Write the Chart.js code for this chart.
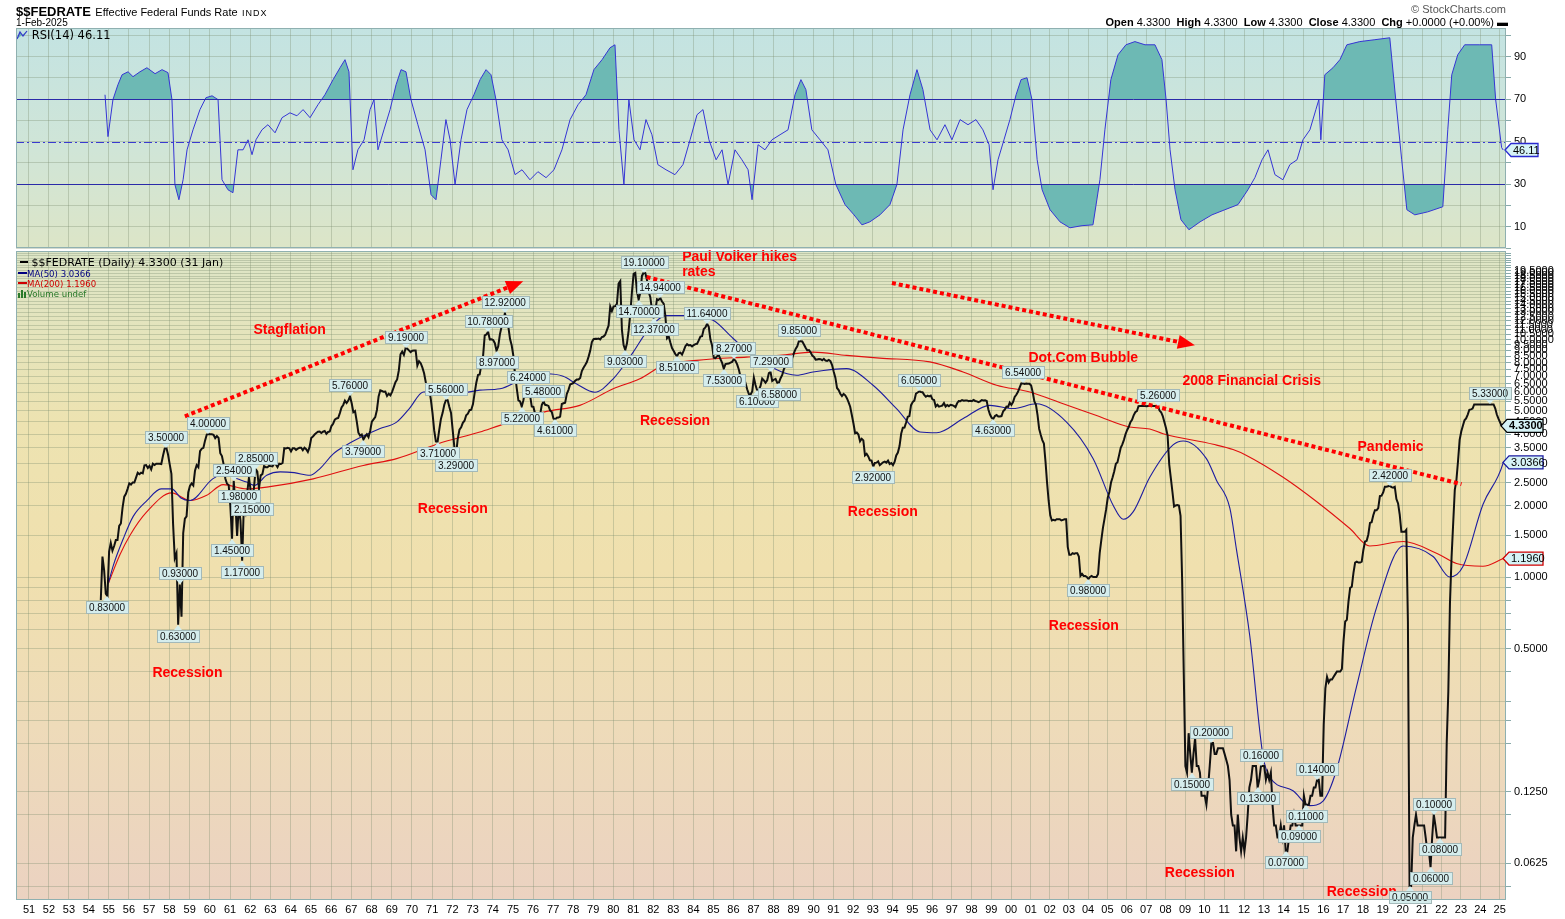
<!DOCTYPE html>
<html><head><meta charset="utf-8">
<script src="https://cdn.jsdelivr.net/npm/chart.js@4.4.1/dist/chart.umd.min.js"></script>
<style>
html,body{margin:0;padding:0;background:#fff;}
#wrap{position:relative;width:1565px;height:919px;overflow:hidden;font-family:"Liberation Sans",Arial,sans-serif;color:#000;}
canvas{position:absolute;left:0;top:0;}
.t{position:absolute;white-space:nowrap;line-height:1;}
.dv{font-family:"DejaVu Sans",Verdana,sans-serif;}
</style></head><body>
<div id="wrap">
<canvas id="rsi" width="1565" height="919"></canvas>
<canvas id="main" width="1565" height="919"></canvas>
<div class="t" style="left:16px;top:3px;"><b style="font-size:13px;">$$FEDRATE</b> <span style="font-size:11px;">Effective Federal Funds Rate</span> <span style="font-size:9px;letter-spacing:1px;">INDX</span></div>
<div class="t" style="left:16px;top:18px;font-size:10px;">1-Feb-2025</div>
<div class="t" style="right:59px;top:4px;font-size:11px;color:#555;">&#169; StockCharts.com</div>
<div class="t" style="right:57px;top:17px;font-size:11px;"><b>Open</b> 4.3300&nbsp; <b>High</b> 4.3300&nbsp; <b>Low</b> 4.3300&nbsp; <b>Close</b> 4.3300&nbsp; <b>Chg</b> +0.0000 (+0.00%) <b>&#9644;</b></div>
<div class="t dv" style="left:17px;top:30px;font-size:11.5px;"><svg width="11" height="10" style="vertical-align:-1px"><polyline points="0,9 3,2 6,6 10,1" fill="#6cb9b5" stroke="#3333cc" stroke-width="1.2"/></svg> RSI(14) 46.11</div>
<div class="t dv" style="left:20px;top:257px;font-size:11px;"><span style="display:inline-block;width:8px;height:2px;background:#000;vertical-align:3px;"></span> $$FEDRATE (Daily) 4.3300 (31 Jan)</div>
<div class="t dv" style="left:18px;top:269.5px;font-size:8.6px;color:#000080;"><span style="display:inline-block;width:9px;height:2px;background:#000080;vertical-align:3px;"></span>MA(50) 3.0366</div>
<div class="t dv" style="left:18px;top:279.5px;font-size:8.6px;color:#d00000;"><span style="display:inline-block;width:9px;height:2px;background:#d00000;vertical-align:3px;"></span>MA(200) 1.1960</div>
<div class="t dv" style="left:18px;top:289.5px;font-size:8.6px;color:#2a7a2a;"><svg width="9" height="8" style="vertical-align:-1px"><rect x="0" y="3" width="2" height="5" fill="#2a7a2a"/><rect x="3" y="0" width="2" height="8" fill="#2a7a2a"/><rect x="6" y="2" width="2" height="6" fill="#2a7a2a"/></svg>Volume undef</div>
</div>
<script>
// ---------------- DATA ----------------
// Effective Federal Funds Rate, monthly, first value = Jul 1954
const fedStartYear = 1954, fedStartMonth = 7;
const fedRate = [
/*1954*/ 0.80,1.22,1.07,0.85,0.83,1.28,
/*1955*/ 1.39,1.29,1.35,1.43,1.43,1.64,1.68,1.96,2.18,2.24,2.35,2.48,
/*1956*/ 2.45,2.50,2.50,2.62,2.75,2.71,2.75,2.73,2.95,2.96,2.88,2.94,
/*1957*/ 2.84,3.00,2.96,3.00,3.00,3.00,2.99,3.24,3.47,3.50,3.28,2.98,
/*1958*/ 2.72,1.67,1.20,1.26,0.63,0.93,0.68,1.53,1.76,1.80,2.27,2.42,
/*1959*/ 2.48,2.43,2.80,2.96,2.90,3.39,3.47,3.50,3.76,3.98,4.00,3.99,
/*1960*/ 3.99,3.97,3.84,3.92,3.85,3.32,3.23,2.98,2.60,2.47,2.44,1.98,
/*1961*/ 1.45,2.54,2.02,1.49,1.98,1.73,1.17,2.00,1.88,2.26,2.61,2.33,
/*1962*/ 2.15,2.37,2.85,2.78,2.36,2.68,2.71,2.93,2.90,2.90,2.94,2.93,
/*1963*/ 2.92,3.00,2.98,2.90,3.00,2.99,3.02,3.49,3.48,3.50,3.48,3.38,
/*1964*/ 3.48,3.48,3.43,3.47,3.50,3.50,3.42,3.50,3.45,3.36,3.52,3.85,
/*1965*/ 3.90,3.98,4.04,4.09,4.10,4.04,4.09,4.12,4.01,4.08,4.10,4.32,
/*1966*/ 4.42,4.60,4.65,4.67,4.90,5.17,5.30,5.53,5.40,5.53,5.76,5.40,
/*1967*/ 4.94,5.00,4.53,4.05,3.94,3.98,3.79,3.90,3.99,3.88,4.13,4.51,
/*1968*/ 4.61,4.71,5.05,5.76,6.11,6.07,6.02,6.03,5.78,5.91,5.82,6.02,
/*1969*/ 6.30,6.61,6.79,7.41,8.67,8.90,8.61,9.19,9.15,9.00,8.85,8.97,
/*1970*/ 8.98,8.98,7.76,8.10,7.95,7.61,7.21,6.61,6.29,6.20,5.60,4.90,
/*1971*/ 4.14,3.72,3.71,4.16,4.63,4.91,5.31,5.56,5.55,5.20,4.91,4.14,
/*1972*/ 3.50,3.29,3.83,4.17,4.27,4.46,4.55,4.80,4.87,5.04,5.06,5.33,
/*1973*/ 5.94,6.58,7.09,7.12,7.84,8.49,10.40,10.50,10.78,10.01,10.03,9.95,
/*1974*/ 9.65,8.97,9.35,10.51,11.31,11.93,12.92,12.01,11.34,10.06,9.45,8.53,
/*1975*/ 7.13,6.24,5.54,5.49,5.22,5.55,6.10,6.14,6.24,5.82,5.22,5.20,
/*1976*/ 4.87,4.77,4.84,4.82,5.29,5.48,5.31,5.29,5.25,5.03,4.95,4.65,
/*1977*/ 4.61,4.68,4.69,4.73,5.35,5.39,5.42,5.90,6.14,6.47,6.51,6.56,
/*1978*/ 6.70,6.78,6.79,6.89,7.36,7.60,7.81,8.04,8.45,8.96,9.76,10.03,
/*1979*/ 10.07,10.06,10.09,10.01,10.24,10.29,10.47,10.94,11.43,13.77,13.18,13.78,
/*1980*/ 13.82,14.13,17.19,17.61,10.98,9.47,9.03,9.61,10.87,12.81,15.85,18.90,
/*1981*/ 19.08,15.93,14.70,15.72,18.52,19.10,19.04,17.82,15.87,15.08,13.31,12.37,
/*1982*/ 13.22,14.78,14.68,14.94,14.45,14.15,12.59,10.12,10.31,9.71,9.20,8.95,
/*1983*/ 8.68,8.51,8.77,8.80,8.63,8.98,9.37,9.56,9.45,9.48,9.34,9.47,
/*1984*/ 9.56,9.59,9.91,10.29,10.32,11.06,11.23,11.64,11.30,9.99,9.43,8.38,
/*1985*/ 8.35,8.50,8.58,8.27,7.97,7.53,7.88,7.90,7.92,7.99,8.05,8.27,
/*1986*/ 8.14,7.86,7.48,6.99,6.85,6.92,6.56,6.17,5.89,5.85,6.04,6.91,
/*1987*/ 6.43,6.10,6.13,6.37,6.85,6.73,6.58,6.73,7.22,7.29,6.69,6.77,
/*1988*/ 6.83,6.58,6.58,6.87,7.09,7.51,7.75,8.01,8.19,8.30,8.35,8.76,
/*1989*/ 9.12,9.36,9.85,9.84,9.81,9.53,9.24,8.99,9.02,8.84,8.55,8.45,
/*1990*/ 8.23,8.24,8.28,8.26,8.18,8.29,8.15,8.13,8.20,8.11,7.81,7.31,
/*1991*/ 6.91,6.25,6.12,5.91,5.78,5.90,5.82,5.66,5.45,5.21,4.81,4.43,
/*1992*/ 4.03,4.06,3.98,3.73,3.82,3.76,3.25,3.30,3.22,3.10,3.09,2.92,
/*1993*/ 3.02,3.03,3.07,2.96,3.00,3.04,3.06,3.03,3.09,2.99,3.02,2.96,
/*1994*/ 3.05,3.25,3.34,3.56,4.01,4.25,4.26,4.47,4.73,4.76,5.29,5.45,
/*1995*/ 5.53,5.92,5.98,6.05,6.01,6.00,5.85,5.74,5.80,5.76,5.80,5.60,
/*1996*/ 5.56,5.22,5.31,5.22,5.24,5.27,5.40,5.22,5.30,5.24,5.31,5.29,
/*1997*/ 5.25,5.19,5.39,5.51,5.50,5.56,5.52,5.54,5.54,5.50,5.52,5.50,
/*1998*/ 5.56,5.51,5.49,5.45,5.49,5.56,5.54,5.55,5.51,5.07,4.83,4.68,
/*1999*/ 4.63,4.76,4.81,4.74,4.74,4.76,4.99,5.07,5.22,5.20,5.42,5.30,
/*2000*/ 5.45,5.73,5.85,6.02,6.27,6.53,6.54,6.50,6.52,6.51,6.51,6.40,
/*2001*/ 5.98,5.49,5.31,4.80,4.21,3.97,3.77,3.65,3.07,2.49,2.09,1.82,
/*2002*/ 1.73,1.74,1.73,1.75,1.75,1.75,1.73,1.74,1.75,1.75,1.34,1.24,
/*2003*/ 1.24,1.26,1.25,1.26,1.26,1.22,1.01,1.03,1.01,1.01,1.00,0.98,
/*2004*/ 1.00,1.01,1.00,1.00,1.00,1.03,1.26,1.43,1.61,1.76,1.93,2.16,
/*2005*/ 2.28,2.50,2.63,2.79,3.00,3.04,3.26,3.50,3.62,3.78,4.00,4.16,
/*2006*/ 4.29,4.49,4.59,4.79,4.94,4.99,5.24,5.25,5.25,5.25,5.25,5.24,
/*2007*/ 5.25,5.26,5.26,5.25,5.25,5.25,5.26,5.02,4.94,4.76,4.49,4.24,
/*2008*/ 3.94,2.98,2.61,2.28,1.98,2.00,2.01,2.00,1.81,0.97,0.39,0.16,
/*2009*/ 0.15,0.22,0.18,0.15,0.18,0.21,0.16,0.16,0.15,0.12,0.12,0.12,
/*2010*/ 0.11,0.13,0.16,0.20,0.20,0.18,0.18,0.19,0.19,0.19,0.19,0.18,
/*2011*/ 0.17,0.16,0.14,0.10,0.09,0.09,0.07,0.10,0.08,0.07,0.08,0.07,
/*2012*/ 0.08,0.10,0.13,0.14,0.16,0.16,0.16,0.13,0.14,0.16,0.16,0.16,
/*2013*/ 0.14,0.15,0.14,0.15,0.11,0.09,0.09,0.08,0.08,0.09,0.08,0.09,
/*2014*/ 0.07,0.07,0.08,0.09,0.09,0.10,0.09,0.09,0.09,0.09,0.09,0.12,
/*2015*/ 0.11,0.11,0.11,0.12,0.12,0.13,0.13,0.14,0.14,0.12,0.12,0.24,
/*2016*/ 0.34,0.38,0.36,0.37,0.37,0.38,0.39,0.40,0.40,0.40,0.41,0.54,
/*2017*/ 0.65,0.66,0.79,0.90,0.91,1.04,1.15,1.16,1.15,1.15,1.16,1.30,
/*2018*/ 1.41,1.42,1.51,1.69,1.70,1.82,1.91,1.91,1.95,2.19,2.20,2.27,
/*2019*/ 2.40,2.40,2.41,2.42,2.39,2.38,2.40,2.13,2.04,1.83,1.55,1.55,
/*2020*/ 1.55,1.58,0.65,0.05,0.05,0.08,0.09,0.10,0.09,0.09,0.09,0.09,
/*2021*/ 0.09,0.08,0.07,0.07,0.06,0.08,0.10,0.09,0.08,0.08,0.08,0.08,
/*2022*/ 0.08,0.08,0.20,0.33,0.77,1.21,1.68,2.33,2.56,3.08,3.78,4.10,
/*2023*/ 4.33,4.57,4.65,4.83,5.06,5.08,5.12,5.33,5.33,5.33,5.33,5.33,
/*2024*/ 5.33,5.33,5.33,5.33,5.33,5.33,5.33,5.33,5.13,4.83,4.64,4.48,
/*2025*/ 4.33
];

// The chart's time axis is not exactly linear in calendar time: shift (in years) at some calendar dates
const warpCalYears = [1950, 1955, 1975, 1990, 2001, 2004, 2010, 2020, 2025.1];
const warpShift    = [-0.25, -0.23, 0.12, 0.25, 0.18, 0.06, -0.08, -0.10, -0.22];
const yearLabelShift = -0.1;

// Moving averages (chart-axis year, value)
const ma50Dates  = [1954.65,1954.90,1955.4,1955.9,1956.6,1957.3,1957.84,1958.3,1958.76,1959.9,1960.60,1961.1,1961.61,1962.0,1962.62,1963.3,1964.0,1964.8,1965.3,1965.97,1966.6,1967.48,1968.3,1969.16,1969.8,1970.5,1971.68,1972.5,1973.35,1974.36,1975.53,1976.71,1977.54,1978.22,1979.14,1980.06,1981.07,1981.74,1982.75,1983.75,1985.09,1986.10,1987.11,1989.29,1990.12,1991.81,1993.14,1994.32,1995.50,1996.34,1997.68,1999.02,2000.19,2001.37,2002.88,2004.22,2005.23,2005.73,2006.23,2007.07,2008.24,2008.75,2009.92,2010.43,2011.10,2011.43,2012.10,2012.77,2013.11,2014.28,2015.12,2015.79,2016.47,2017.47,2018.48,2019.82,2021.33,2022.17,2022.84,2023.84,2024.85,2024.86];
const ma50Values = [0.94,1.12,1.45,1.80,2.10,2.35,2.35,2.15,2.10,2.59,2.72,2.60,2.51,2.43,2.68,2.77,2.75,2.68,2.86,3.30,3.58,3.92,4.21,4.49,5.12,6.01,6.05,5.97,6.12,6.20,6.83,7.17,7.00,6.50,6.00,6.83,8.85,10.75,12.60,12.60,12.05,10.10,8.57,7.07,7.30,7.54,6.42,5.12,4.08,4.05,4.65,5.28,5.12,5.36,4.49,3.15,2.00,1.75,1.88,2.63,3.60,3.74,3.15,2.55,1.95,1.31,0.567,0.176,0.144,0.126,0.109,0.114,0.154,0.344,0.741,1.35,1.22,1.00,1.11,2.02,3.01,3.0366];
const ma200Dates  = [1954.65,1955.23,1955.74,1956.58,1957.84,1958.76,1959.60,1960.43,1961.61,1962.62,1964.96,1967.48,1969.16,1971.25,1973.35,1974.36,1976.71,1978.38,1980.06,1981.40,1982.58,1984.26,1986.77,1988.45,1990.12,1991.81,1993.48,1996.00,1997.67,1999.36,2001.03,2002.71,2004.39,2006.06,2007.07,2007.74,2010.26,2011.26,2011.94,2013.78,2015.46,2017.14,2018.14,2019.82,2021.50,2022.51,2023.84,2024.86];
const ma200Values = [0.94,1.24,1.50,1.88,2.26,2.10,2.21,2.45,2.35,2.39,2.59,2.95,3.15,3.64,4.08,4.35,4.98,5.28,6.20,6.83,7.78,8.17,8.43,8.57,8.85,8.57,8.35,8.05,7.30,6.42,6.01,5.36,4.79,4.28,4.20,4.01,3.62,3.44,3.25,2.63,2.08,1.60,1.35,1.41,1.26,1.14,1.11,1.196];

// RSI(14) (chart-axis year, value)
const rsiDates = [1954.48,1954.63,1954.88,1955.13,1955.34,1955.64,1955.89,1956.24,1956.59,1957.00,1957.35,1957.65,1957.85,1958.00,1958.20,1958.41,1958.61,1958.91,1959.26,1959.56,1959.87,1960.17,1960.37,1960.67,1960.92,1961.17,1961.43,1961.68,1961.88,1962.08,1962.38,1962.68,1963.04,1963.39,1963.79,1964.14,1964.45,1964.80,1965.20,1965.55,1965.96,1966.31,1966.56,1966.76,1966.96,1967.21,1967.52,1967.82,1968.02,1968.22,1968.52,1968.83,1969.13,1969.38,1969.63,1969.88,1970.23,1970.59,1970.89,1971.14,1971.39,1971.64,1971.85,1972.10,1972.40,1972.70,1973.05,1973.36,1973.66,1973.91,1974.16,1974.46,1974.77,1975.12,1975.47,1975.87,1976.27,1976.68,1977.08,1977.48,1977.89,1978.29,1978.69,1979.09,1979.50,1979.90,1980.15,1980.35,1980.60,1980.85,1981.11,1981.41,1981.71,1982.01,1982.31,1982.72,1983.17,1983.57,1983.93,1984.28,1984.58,1984.88,1985.24,1985.54,1985.84,1986.19,1986.54,1986.85,1987.05,1987.35,1987.70,1988.05,1988.46,1988.86,1989.21,1989.51,1989.76,1990.06,1990.47,1990.87,1991.27,1991.73,1992.18,1992.58,1992.98,1993.49,1993.99,1994.34,1994.65,1995.00,1995.35,1995.65,1996.01,1996.36,1996.76,1997.11,1997.52,1997.92,1998.32,1998.67,1998.98,1999.18,1999.43,1999.73,2000.03,2000.34,2000.59,2000.89,2001.14,2001.40,2001.65,2002.05,2002.55,2003.05,2003.66,2004.21,2004.56,2004.81,2005.11,2005.47,2005.87,2006.32,2006.83,2007.33,2007.68,2007.89,2008.09,2008.34,2008.64,2009.04,2009.60,2010.20,2010.85,2011.51,2012.01,2012.36,2012.72,2013.02,2013.37,2013.77,2014.12,2014.48,2014.78,2015.13,2015.43,2015.58,2015.68,2015.88,2016.29,2016.64,2016.99,2017.64,2018.40,2019.15,2019.45,2019.75,2020.01,2020.41,2021.06,2021.82,2022.07,2022.27,2022.57,2022.92,2023.68,2024.28,2024.48,2024.78,2024.86];
const rsiValues = [72.1,52.4,69.8,76.8,81.5,82.9,80.6,82.9,84.8,82.0,83.9,82.5,69.8,29.8,22.7,32.1,46.2,55.6,65.1,70.7,71.6,69.8,32.1,27.4,26.0,46.2,46.2,50.9,43.9,50.9,55.6,58.0,54.2,61.3,63.6,62.2,65.1,61.3,67.4,72.1,79.2,84.8,88.6,82.9,36.8,46.2,50.9,65.1,69.8,46.2,55.6,65.1,76.8,83.9,82.9,69.8,58.0,46.2,25.1,22.7,41.5,60.4,50.9,29.8,50.9,65.1,72.1,79.2,83.9,81.5,69.8,50.9,46.2,34.5,36.8,32.1,35.9,33.1,36.8,46.2,60.4,67.4,72.1,83.9,88.6,94.2,95.6,55.6,29.8,69.8,50.9,46.2,60.4,53.3,39.2,36.8,34.5,39.2,50.9,62.7,65.1,50.9,41.5,46.2,29.8,46.2,41.5,36.8,22.7,48.6,46.2,50.9,53.3,55.6,72.1,79.2,74.5,55.6,50.9,46.2,29.8,20.4,15.6,10.9,12.3,15.6,20.4,29.8,55.6,72.1,83.9,74.5,55.6,50.9,58.0,50.9,60.4,58.0,60.4,55.6,48.6,27.4,41.5,50.9,60.4,72.1,79.2,80.1,69.8,41.5,27.4,18.0,12.3,9.5,10.5,10.9,32.1,55.6,79.2,90.9,95.6,97.1,95.6,95.6,88.6,69.8,46.2,27.4,13.3,8.6,12.3,15.6,18.0,20.4,27.4,33.1,41.5,46.2,34.5,32.1,39.2,41.5,50.9,55.6,65.1,69.8,50.9,81.5,84.8,88.6,95.6,97.1,98.0,98.9,69.8,41.5,18.0,15.6,17.0,19.4,55.6,81.5,90.9,95.6,95.6,95.6,69.8,47.2,46.11];

// Axis ticks
const yearTicks = []; for (let y = 1951; y <= 2025; y++) yearTicks.push(y);
const priceLabelTicks = [0.0625,0.125,0.5,1,1.5,2,2.5,3,3.5,4,4.5,5,5.5,6,6.5,7,7.5,8,8.5,9,9.5,10,10.5,11,11.5,12,12.5,13,13.5,14,14.5,15,15.5,16,16.5,17,17.5,18,18.5,19,19.5];
const priceGridTicks = [0.05,0.0625,0.1,0.125,0.2,0.25,0.3,0.4,0.5,0.6,0.7,0.8,0.9].concat(priceLabelTicks.slice(3)).concat([20,20.5,21,21.5,22,22.5,23]);
const rsiLabelTicks = [10,30,50,70,90];
const rsiGridTicks = [0,10,20,30,40,50,60,70,80,90,100];

// Annotated turning points: [year, month, value, side]
const pointYears  = [1954,1957,1958,1958,1959,1961,1961,1961,1961,1962,1962,1966,1967,1969,1971,1971,1972,1973,1974,1974,1975,1975,1976,1977,1980,1981,1981,1981,1982,1983,1984,1985,1985,1987,1987,1988,1989,1992,1995,1999,2000,2003,2007,2009,2010,2012,2012,2014,2014,2015,2015,2019,2020,2021,2021,2021,2024];
const pointMonths = [11,10,5,6,11,1,2,5,7,1,3,11,7,8,3,8,2,9,2,7,5,9,6,1,7,3,6,12,4,2,8,6,12,2,10,3,3,12,4,1,7,12,7,4,4,8,10,1,9,1,8,4,4,5,7,11,6];
const pointValues = [0.83,3.50,0.63,0.93,4.00,1.45,2.54,1.98,1.17,2.15,2.85,5.76,3.79,9.19,3.71,5.56,3.29,10.78,8.97,12.92,5.22,6.24,5.48,4.61,9.03,14.70,19.10,12.37,14.94,8.51,11.64,7.53,8.27,6.10,7.29,6.58,9.85,2.92,6.05,4.63,6.54,0.98,5.26,0.15,0.20,0.13,0.16,0.07,0.09,0.11,0.14,2.42,0.05,0.06,0.10,0.08,5.33];
const pointSides  = ['b','a','b','a','a','b','a','a','b','b','a','a','b','a','b','a','b','a','b','a','b','a','a','b','b','b','a','b','a','b','a','b','a','b','a','b','a','b','a','b','a','b','a','b','a','b','a','b','b','b','a','a','b','b','a','b','a'];

// Red notes: text, anchor (chart-axis year), anchor value
const noteTexts  = ['Stagflation','Recession','Recession','Paul Volker hikes','rates','Recession','Recession','Dot.Com Bubble','2008 Financial Crisis','Recession','Pandemic','Recession','Recession'];
const noteYears  = [1963.77,1958.63,1971.99,1983.53,1983.53,1983.17,1993.63,2003.72,2012.20,2003.75,2019.19,2009.59,2017.74];
const noteLevels = [10.93,0.394,1.928,22.3,19.3,4.54,1.878,8.36,6.69,0.622,3.53,0.0568,0.0472];
const noteAlign  = ['center','center','center','left','left','center','center','center','center','center','center','center','center'];

// Dotted trend lines: from (year,value) to (year,value), arrow head flag
const trendFromYears = [1958.50,1981.74,1994.09];
const trendFromVals  = [4.75,18.33,17.29];
const trendToYears   = [1975.53,2022.76,2009.34];
const trendToVals    = [17.58,2.46,9.45];
const trendArrow     = [true,false,true];

// Last values (right-hand tags)
const lastClose = 4.33, lastMA50 = 3.0366, lastMA200 = 1.196, lastRSI = 46.11;

// ---------------- BUILD ----------------
function toChartYear(t) {
  for (let i = 0; i < warpCalYears.length - 1; i++) {
    if (t <= warpCalYears[i + 1]) {
      const f = (t - warpCalYears[i]) / (warpCalYears[i + 1] - warpCalYears[i]);
      return t + warpShift[i] + f * (warpShift[i + 1] - warpShift[i]);
    }
  }
  return t + warpShift[warpShift.length - 1];
}
const fedPts = fedRate.map((v,i) => ({x: toChartYear(fedStartYear + (fedStartMonth - 1 + i)/12), y: v}));
const ma50Pts = ma50Dates.map((t,i) => ({x:t, y:ma50Values[i]}));
const ma200Pts = ma200Dates.map((t,i) => ({x:t, y:ma200Values[i]}));
const rsiPts = rsiDates.map((t,i) => ({x:t, y:rsiValues[i]}));
const yearTickPos = yearTicks.map(y => toChartYear(y) + yearLabelShift);

const PLOT_L = 16, PLOT_R = 1506, RSI_T = 28, RSI_B = 248, MAIN_T = 251, MAIN_B = 900, W = 1565, H = 919;
const GRID = 'rgba(120,140,110,0.33)';
const FRAME = '#8fb0b0';
const FONT = '"Liberation Sans", Arial, sans-serif';

const bgPlugin = {
  id: 'bg',
  beforeDraw(chart) {
    const {ctx, chartArea: a} = chart;
    const g = ctx.createLinearGradient(0, 28, 0, 900);
    g.addColorStop(0, '#c3e3e2');
    g.addColorStop(0.14, '#d0e5d7');
    g.addColorStop(0.26, '#dde5c6');
    g.addColorStop(0.45, '#ede3b1');
    g.addColorStop(0.62, '#f0e0ae');
    g.addColorStop(0.8, '#eedbb9');
    g.addColorStop(1, '#ebd2c1');
    ctx.save(); ctx.fillStyle = g; ctx.fillRect(a.left, a.top, a.right - a.left, a.bottom - a.top); ctx.restore();
  },
  afterDraw(chart) {
    const {ctx, chartArea: a} = chart;
    ctx.save(); ctx.strokeStyle = FRAME; ctx.lineWidth = 1;
    ctx.strokeRect(a.left + 0.5, a.top + 0.5, a.right - a.left - 1, a.bottom - a.top - 1);
    ctx.restore();
  }
};

function drawTag(ctx, tipX, y, text, border, bold, w) {
  const h = 13;
  ctx.save();
  ctx.beginPath();
  ctx.moveTo(tipX, y);
  ctx.lineTo(tipX + 6, y - h/2);
  ctx.lineTo(tipX + 6 + w, y - h/2);
  ctx.lineTo(tipX + 6 + w, y + h/2);
  ctx.lineTo(tipX + 6, y + h/2);
  ctx.closePath();
  ctx.fillStyle = '#d6f3f6'; ctx.fill();
  ctx.strokeStyle = border; ctx.lineWidth = 1.3; ctx.stroke();
  ctx.fillStyle = '#000'; ctx.font = (bold ? 'bold ' : '') + '11px ' + FONT;
  ctx.textAlign = 'left'; ctx.textBaseline = 'middle';
  ctx.fillText(text, tipX + 8, y + 0.5);
  ctx.restore();
}

const rsiPlugin = {
  id: 'rsiExtras',
  afterDatasetsDraw(chart) {
    const {ctx, chartArea: a, scales: {y}} = chart;
    ctx.save();
    ctx.beginPath(); ctx.rect(a.left, a.top, a.right - a.left, a.bottom - a.top); ctx.clip();
    ctx.strokeStyle = '#2a2aa8'; ctx.lineWidth = 1;
    [70, 30].forEach(v => { const py = Math.round(y.getPixelForValue(v)) + 0.5; ctx.beginPath(); ctx.moveTo(a.left, py); ctx.lineTo(a.right, py); ctx.stroke(); });
    ctx.strokeStyle = '#3a3ad0'; ctx.setLineDash([8, 3, 2, 3]);
    const p50 = Math.round(y.getPixelForValue(50)) + 0.5;
    ctx.beginPath(); ctx.moveTo(a.left, p50); ctx.lineTo(a.right, p50); ctx.stroke();
    ctx.restore();
  },
  afterDraw(chart) {
    const y = chart.scales.y;
    drawTag(chart.ctx, 1505, y.getPixelForValue(lastRSI), lastRSI.toFixed(2), '#2a2ad0', false, 27);
  }
};

const annPlugin = {
  id: 'ann',
  afterDatasetsDraw(chart) {
    const {ctx, scales: {x, y}} = chart;
    ctx.save();
    // dotted trend lines
    ctx.strokeStyle = '#ff0000'; ctx.fillStyle = '#ff0000'; ctx.lineWidth = 4;
    trendFromYears.forEach((t, i) => {
      const x0 = x.getPixelForValue(t), y0 = y.getPixelForValue(trendFromVals[i]);
      const x1 = x.getPixelForValue(trendToYears[i]), y1 = y.getPixelForValue(trendToVals[i]);
      const ang = Math.atan2(y1 - y0, x1 - x0);
      const head = trendArrow[i] ? 14 : 0;
      ctx.setLineDash([4, 3]);
      ctx.beginPath(); ctx.moveTo(x0, y0); ctx.lineTo(x1 - head*Math.cos(ang), y1 - head*Math.sin(ang)); ctx.stroke();
      ctx.setLineDash([]);
      if (trendArrow[i]) {
        ctx.beginPath();
        ctx.moveTo(x1, y1);
        ctx.lineTo(x1 - 17*Math.cos(ang) + 7*Math.sin(ang), y1 - 17*Math.sin(ang) - 7*Math.cos(ang));
        ctx.lineTo(x1 - 17*Math.cos(ang) - 7*Math.sin(ang), y1 - 17*Math.sin(ang) + 7*Math.cos(ang));
        ctx.closePath(); ctx.fill();
      }
    });
    // red notes
    ctx.font = 'bold 14px ' + FONT; ctx.textBaseline = 'middle'; ctx.fillStyle = '#ff0000';
    noteTexts.forEach((s, i) => {
      ctx.textAlign = noteAlign[i];
      ctx.fillText(s, x.getPixelForValue(noteYears[i]), y.getPixelForValue(noteLevels[i]));
    });
    // value labels
    ctx.font = '10px ' + FONT;
    pointYears.forEach((yr, i) => {
      const px = Math.round(x.getPixelForValue(toChartYear(yr + (pointMonths[i] - 1)/12)));
      const py = Math.round(y.getPixelForValue(pointValues[i]));
      const txt = pointValues[i].toFixed(5);
      const w = Math.ceil(ctx.measureText(txt).width) + 5, h = 12, tri = 5;
      const above = pointSides[i] === 'a';
      const bx = Math.round(px - w/2) + 0.5;
      const by = above ? py - tri - h + 0.5 : py + tri + 0.5;
      ctx.fillStyle = '#d5eded';
      ctx.beginPath();
      if (above) { ctx.moveTo(px - 6, by + h - 2); ctx.lineTo(px, py); ctx.lineTo(px + 6, by + h - 2); }
      else { ctx.moveTo(px - 6, by + 2); ctx.lineTo(px, py); ctx.lineTo(px + 6, by + 2); }
      ctx.closePath(); ctx.fill();
      ctx.fillRect(bx, by, w, h);
      ctx.strokeStyle = '#a3b9b9'; ctx.lineWidth = 1; ctx.strokeRect(bx, by, w, h);
      ctx.fillStyle = '#111'; ctx.textAlign = 'center'; ctx.textBaseline = 'middle';
      ctx.fillText(txt, px, by + h/2 + 0.5);
    });
    ctx.restore();
  },
  afterDraw(chart) {
    const {ctx, scales: {y}} = chart;
    drawTag(ctx, 1501, y.getPixelForValue(lastClose), lastClose.toFixed(4), '#000000', true, 36);
    drawTag(ctx, 1503, y.getPixelForValue(lastMA50), lastMA50.toFixed(4), '#1a1aa0', false, 34);
    drawTag(ctx, 1503, y.getPixelForValue(lastMA200), lastMA200.toFixed(4), '#d00000', false, 34);
  }
};

const xCommon = (showLabels) => ({
  type: 'linear', min: 1950, max: 2025,
  afterBuildTicks: s => { s.ticks = yearTickPos.map(v => ({value: v})); },
  afterFit: s => { s.height = showLabels ? (H - MAIN_B) : 0; },
  grid: {color: GRID, drawTicks: false},
  border: {display: false},
  ticks: {display: showLabels, autoSkip: false, maxRotation: 0, padding: 3, color: '#000',
          font: {family: FONT, size: 11}, callback: (v, i) => String(yearTicks[i] % 100).padStart(2, '0')}
});

new Chart(document.getElementById('rsi'), {
  type: 'line',
  data: {datasets: [
    {data: rsiPts, borderColor: '#3535d5', borderWidth: 1, pointRadius: 0, tension: 0,
     fill: {target: {value: 70}, above: '#6db9b4', below: 'rgba(0,0,0,0)'}},
    {data: rsiPts, borderColor: 'rgba(0,0,0,0)', borderWidth: 0, pointRadius: 0, tension: 0,
     fill: {target: {value: 30}, above: 'rgba(0,0,0,0)', below: '#6db9b4'}}
  ]},
  options: {
    responsive: false, animation: false, devicePixelRatio: 1,
    layout: {padding: {left: PLOT_L, right: 0, top: RSI_T, bottom: H - RSI_B}, autoPadding: false},
    plugins: {legend: {display: false}, tooltip: {enabled: false}},
    scales: {
      x: xCommon(false),
      y: {position: 'right', min: 0, max: 103.5,
          afterBuildTicks: s => { s.ticks = rsiGridTicks.map(v => ({value: v})); },
          afterFit: s => { s.width = W - PLOT_R; },
          grid: {color: GRID, tickLength: 5, tickColor: '#8aa'},
          border: {display: false},
          ticks: {padding: 3, color: '#000', font: {family: FONT, size: 11},
                  callback: v => rsiLabelTicks.includes(v) ? String(v) : ''}}
    }
  },
  plugins: [bgPlugin, rsiPlugin]
});

new Chart(document.getElementById('main'), {
  type: 'line',
  data: {datasets: [
    {data: fedPts, borderColor: '#111111', borderWidth: 2, pointRadius: 0, tension: 0},
    {data: ma50Pts, borderColor: '#1c1ca0', borderWidth: 1.1, pointRadius: 0, cubicInterpolationMode: 'monotone'},
    {data: ma200Pts, borderColor: '#e01010', borderWidth: 1.1, pointRadius: 0, cubicInterpolationMode: 'monotone'}
  ]},
  options: {
    responsive: false, animation: false, devicePixelRatio: 1,
    layout: {padding: {left: PLOT_L, right: 0, top: MAIN_T, bottom: 0}, autoPadding: false},
    plugins: {legend: {display: false}, tooltip: {enabled: false}},
    scales: {
      x: xCommon(true),
      y: {type: 'logarithmic', position: 'right', min: 0.04367, max: 23.58,
          afterBuildTicks: s => { s.ticks = priceGridTicks.map(v => ({value: v})); },
          afterFit: s => { s.width = W - PLOT_R; },
          grid: {color: GRID, tickLength: 5, tickColor: '#8aa'},
          border: {display: false},
          ticks: {autoSkip: false, padding: 3, color: '#000', font: {family: FONT, size: 11},
                  callback: v => priceLabelTicks.includes(v) ? v.toFixed(4) : ''}}
    }
  },
  plugins: [bgPlugin, annPlugin]
});
</script>
</body></html>
